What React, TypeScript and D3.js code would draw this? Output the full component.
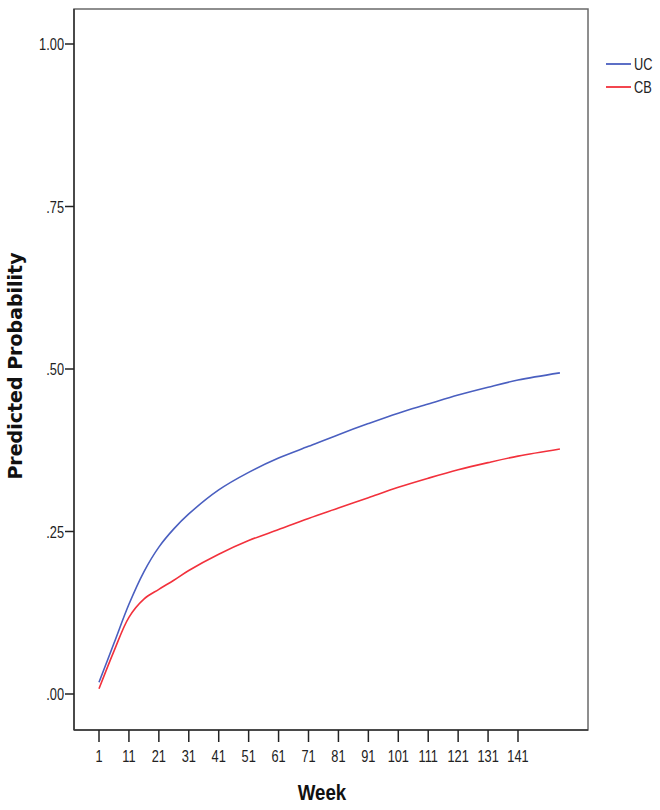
import React from 'react';
import * as d3 from 'd3';

const weeks = [1, 6, 11, 16, 21, 26, 31, 41, 51, 61, 71, 81, 91, 101, 111, 121, 131, 141, 155];
const ucValues = [0.018, 0.078, 0.138, 0.188, 0.226, 0.254, 0.277, 0.314, 0.341, 0.363, 0.381, 0.399, 0.416, 0.432, 0.446, 0.46, 0.472, 0.483, 0.494];
const cbValues = [0.008, 0.066, 0.118, 0.146, 0.161, 0.175, 0.19, 0.215, 0.236, 0.253, 0.27, 0.286, 0.302, 0.318, 0.332, 0.345, 0.356, 0.366, 0.377];
const xTicks = [1, 11, 21, 31, 41, 51, 61, 71, 81, 91, 101, 111, 121, 131, 141];
const yTicks = [0, 0.25, 0.5, 0.75, 1];
const yTickLabels = ['.00', '.25', '.50', '.75', '1.00'];

const series = [
  { name: 'UC', values: ucValues, color: '#4a5fc0' },
  { name: 'CB', values: cbValues, color: '#f2313c' },
];

const frame = { left: 74, top: 9, right: 588, bottom: 730 };

export default function App() {
  const width = 660, height = 810;

  const x = d3.scaleLinear().domain([1, 141]).range([99, 518]);
  const y = d3.scaleLinear().domain([0, 1]).range([694, 44]);

  const line = d3.line<number>()
    .x((d, i) => x(weeks[i]))
    .y(d => y(d))
    .curve(d3.curveCatmullRom.alpha(0.5));

  const sans = '"Liberation Sans", Arial, sans-serif';
  // narrow look of the original labels
  const squeeze = (tx: number, ty: number, k = 0.8) => `translate(${tx},${ty}) scale(${k},1)`;

  return <svg width={width} height={height} style={{ position: 'absolute', left: 0, top: 0, background: '#fff' }}>
    <rect x={frame.left} y={frame.top} width={frame.right - frame.left} height={frame.bottom - frame.top}
      fill="none" stroke="#6a6a6a" strokeWidth={1.5} />
    <line x1={frame.left} x2={frame.left} y1={frame.top} y2={frame.bottom} stroke="#333" strokeWidth={1.5} />
    <line x1={frame.left} x2={frame.right} y1={frame.bottom} y2={frame.bottom} stroke="#333" strokeWidth={1.5} />

    {yTicks.map((t, i) =>
      <g key={'y' + i}>
        <line x1={frame.left - 9} x2={frame.left} y1={y(t)} y2={y(t)} stroke="#222" strokeWidth={1.5} />
        <text transform={squeeze(frame.left - 10, y(t))} dy="0.38em" textAnchor="end" fontFamily={sans} fontSize={16} fill="#222">{yTickLabels[i]}</text>
      </g>)}

    {xTicks.map(t =>
      <g key={'x' + t}>
        <line x1={x(t)} x2={x(t)} y1={frame.bottom} y2={frame.bottom + 12} stroke="#222" strokeWidth={1.5} />
        <text transform={squeeze(x(t), 762)} textAnchor="middle" fontFamily={sans} fontSize={16} fill="#222">{t}</text>
      </g>)}

    {series.map(s =>
      <path key={s.name} d={line(s.values) || ''} fill="none" stroke={s.color} strokeWidth={1.6} />)}

    {series.map((s, i) =>
      <g key={'leg' + s.name}>
        <line x1={606} x2={631} y1={64 + i * 23} y2={64 + i * 23} stroke={s.color} strokeWidth={1.8} />
        <text transform={squeeze(634, 64 + i * 23)} dy="0.38em" fontFamily={sans} fontSize={16} fill="#222">{s.name}</text>
      </g>)}

    <text transform={squeeze(322, 800, 0.85)} textAnchor="middle" fontFamily={sans} fontWeight="bold" fontSize={22} fill="#111">Week</text>
    <text transform={`translate(22,366) rotate(-90)`} textAnchor="middle" fontFamily='"DejaVu Sans", Verdana, sans-serif'
      fontWeight="bold" fontSize={19} fill="#111">Predicted Probability</text>
  </svg>;
}
